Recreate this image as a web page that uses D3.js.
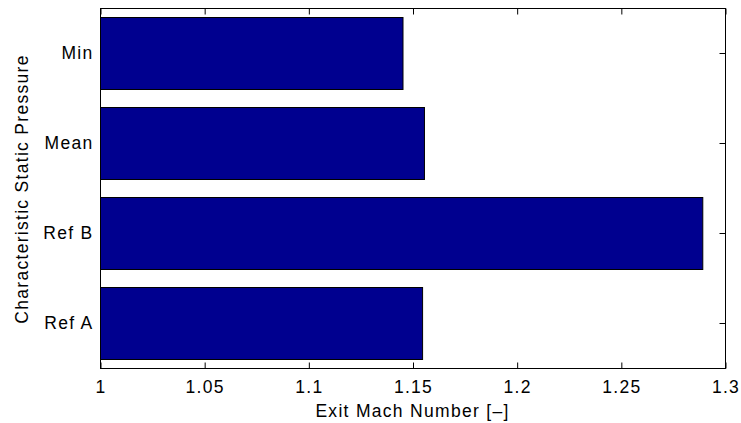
<!DOCTYPE html>
<html>
<head>
<meta charset="utf-8">
<script src="https://cdn.jsdelivr.net/npm/d3@7"></script>
<style>
  html, body { margin: 0; padding: 0; background: #fff; }
  text { font-family: "Liberation Sans", Arial, sans-serif; fill: #000; }
</style>
</head>
<body>
<svg id="chart"></svg>
<script>
// Data
const categories = ["Min", "Mean", "Ref B", "Ref A"];
const exitMach = [1.1452, 1.1555, 1.2891, 1.1546];
const xTicks = [1, 1.05, 1.1, 1.15, 1.2, 1.25, 1.3];
const xTickLabels = ["1", "1.05", "1.1", "1.15", "1.2", "1.25", "1.3"];

const width = 741;
const height = 423;
const margin = { top: 8, right: 16, bottom: 55, left: 100 };
const innerW = width - margin.left - margin.right;
const innerH = height - margin.top - margin.bottom;
const fontSize = 17.5;
const spacing = "1.3px";

const svg = d3.select("#chart").attr("width", width).attr("height", height);

const g = svg
  .append("g")
  .attr("transform", `translate(${margin.left + 0.5},${margin.top + 0.5})`);

// Scales
const x = d3.scaleLinear().domain([1, 1.3]).range([0, innerW]);
const y = d3
  .scaleBand()
  .domain(categories)
  .range([0, innerH])
  .paddingInner(0.2)
  .paddingOuter(0.1);

const rows = categories.map((c, i) => ({ name: c, value: exitMach[i] }));

// Bars
g.selectAll(".bar")
  .data(rows)
  .enter()
  .append("rect")
  .attr("class", "bar")
  .attr("x", x(1))
  .attr("y", (d) => y(d.name))
  .attr("width", (d) => x(d.value) - x(1))
  .attr("height", y.bandwidth())
  .attr("fill", "#00008f")
  .attr("stroke", "#000")
  .attr("stroke-width", 1);

// Bottom axis (ticks pointing inward)
const xAxis = g
  .append("g")
  .attr("class", "x-axis")
  .attr("transform", `translate(0,${innerH})`)
  .call(
    d3
      .axisBottom(x)
      .tickValues(xTicks)
      .tickFormat((d, i) => xTickLabels[i])
      .tickSizeInner(-6)
      .tickSizeOuter(0)
  );
xAxis
  .selectAll("text")
  .attr("y", 24.5)
  .attr("dy", null)
  .style("font-size", fontSize + "px")
  .style("letter-spacing", spacing)
  .style("font-family", '"Liberation Sans", Arial, sans-serif');

// Top axis, ticks only
g.append("g")
  .attr("class", "x-axis-top")
  .call(
    d3
      .axisTop(x)
      .tickValues(xTicks)
      .tickFormat("")
      .tickSizeInner(-6)
      .tickSizeOuter(0)
  );

// Left axis with category labels
const yAxis = g
  .append("g")
  .attr("class", "y-axis")
  .call(d3.axisLeft(y).tickSize(0).tickPadding(7));
yAxis
  .selectAll("text")
  .attr("dy", "0.34em")
  .style("font-size", fontSize + "px")
  .style("letter-spacing", spacing)
  .style("font-family", '"Liberation Sans", Arial, sans-serif');

// Right axis, ticks only
g.append("g")
  .attr("class", "y-axis-right")
  .attr("transform", `translate(${innerW},0)`)
  .call(d3.axisRight(y).tickFormat("").tickSizeInner(-6).tickSizeOuter(0));

g.selectAll(".domain").remove();
g.selectAll(".tick line").attr("stroke", "#000");

// Frame
g.append("rect")
  .attr("x", 0)
  .attr("y", 0)
  .attr("width", innerW)
  .attr("height", innerH)
  .attr("fill", "none")
  .attr("stroke", "#000")
  .attr("stroke-width", 1);

// Axis titles
svg
  .append("text")
  .attr("x", margin.left + innerW / 2)
  .attr("y", 416.5)
  .attr("text-anchor", "middle")
  .style("font-size", fontSize + "px")
  .style("letter-spacing", spacing)
  .text("Exit Mach Number [\u2013]");

svg
  .append("text")
  .attr("transform", `translate(28,${margin.top + innerH / 2 + 1}) rotate(-90)`)
  .attr("text-anchor", "middle")
  .style("font-size", fontSize + "px")
  .style("letter-spacing", spacing)
  .text("Characteristic Static Pressure");
</script>
</body>
</html>
